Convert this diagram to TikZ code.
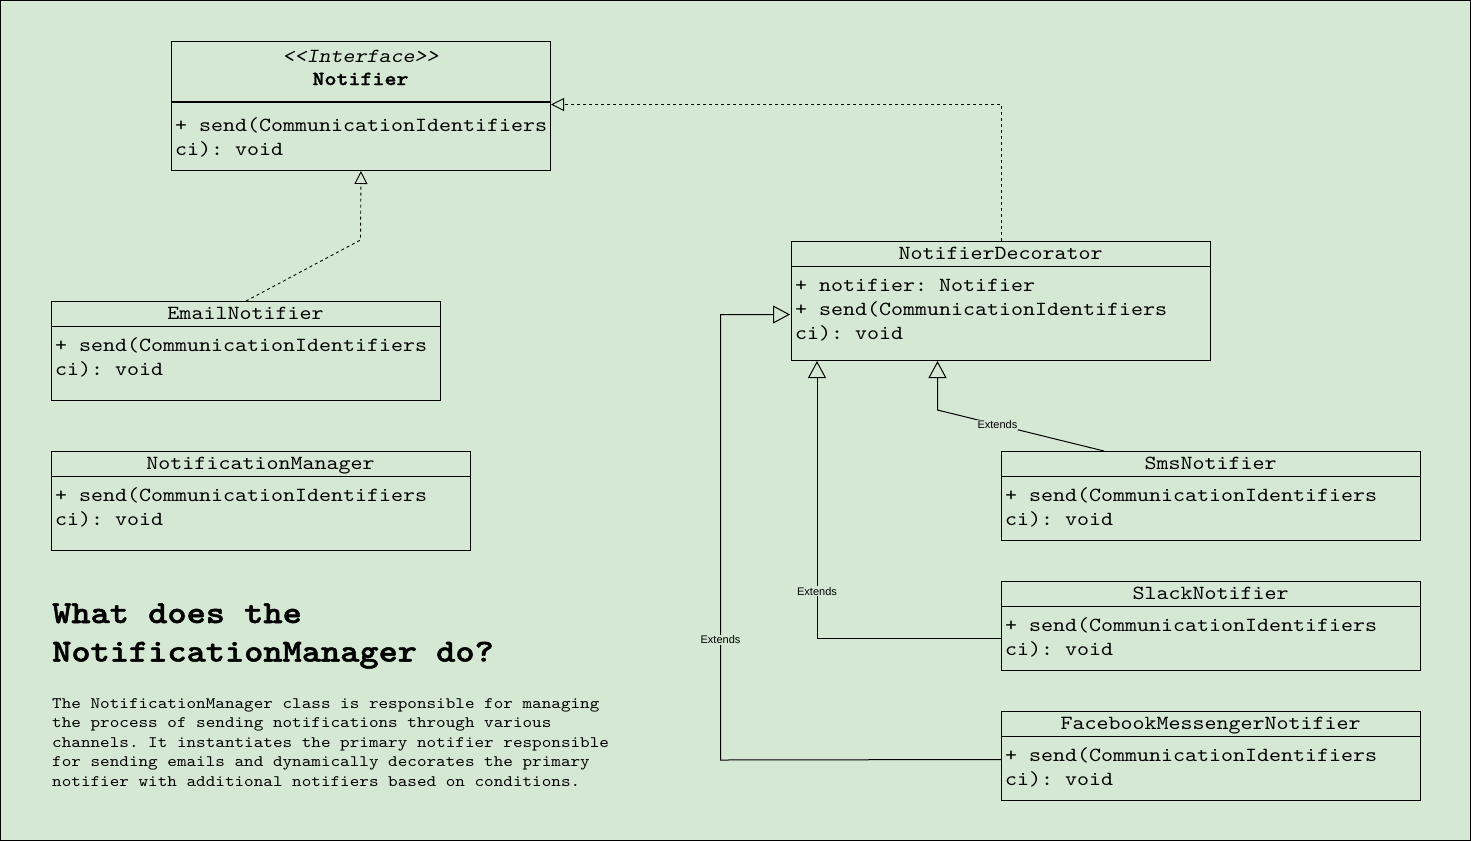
\documentclass[tikz,border=0pt]{standalone}
\usepackage{fontspec}
\usetikzlibrary{arrows.meta}
\newfontfamily\monofam[FakeStretch=1.1429, ItalicFont=lmmonoslant10-regular.otf, BoldFont=lmmonolt10-bold.otf, BoldFeatures={FakeBold=1.5}]{lmmono10-regular.otf}
\newfontfamily\sansfam{Liberation Sans}
\definecolor{bg}{HTML}{D5E8D4}
\begin{document}
\frenchspacing
\begin{tikzpicture}[x=1pt,y=-1pt,
  cls/.style={draw=black, line width=1pt, inner sep=0pt, anchor=north west},
  attr/.style={font=\monofam\frenchspacing\fontsize{20}{24}\selectfont, anchor=base west, inner sep=0pt},
  ttl/.style={font=\monofam\frenchspacing\fontsize{20}{24}\selectfont, anchor=base, inner sep=0pt},
  lbl/.style={font=\sansfam\fontsize{11}{13}\selectfont, fill=bg, inner sep=1pt},
  para/.style={font=\monofam\frenchspacing\fontsize{16}{19.5}\selectfont, anchor=base west, inner sep=0pt},
  head/.style={font=\monofam\frenchspacing\bfseries\fontsize{32}{38}\selectfont, anchor=base west, inner sep=0pt},
  real/.style={line width=0.9pt, dash pattern=on 3pt off 3pt, -{Triangle[open,length=13pt,width=13pt]}},
  ext/.style={line width=1pt, -{Triangle[open,length=17pt,width=18pt]}},
]
\useasboundingbox (0,0) rectangle (1471,841);
\fill[bg] (0,0) rectangle (1471,841);
\draw[line width=1pt] (0.5,0.5) rectangle (1470.5,840.5);

% Notifier interface
\node[cls, minimum width=379pt, minimum height=129pt] (notifier) at (171,41) {};
\draw[line width=2pt] (notifier.west |- 0,102) -- (notifier.east |- 0,102);
\node[ttl] (nst) at (360.5,62) {\itshape <{}<Interface>{}>};
\node[ttl] (nnm) at (360.5,85) {\bfseries Notifier};
\node[attr] (na1) at (175,131.5) {+ send(CommunicationIdentifiers};
\node[attr] (na2) at (175,155.5) {ci): void};

% EmailNotifier
\node[cls, minimum width=389pt, minimum height=99pt] (email) at (51,301) {};
\draw (email.west |- 0,326) -- (email.east |- 0,326);
\node[ttl] (ent) at (245.5,319) {EmailNotifier};
\node[attr] (ea1) at (55,351) {+ send(CommunicationIdentifiers};
\node[attr] (ea2) at (55,375) {ci): void};

% NotificationManager
\node[cls, minimum width=419pt, minimum height=99pt] (manager) at (51,451) {};
\draw (manager.west |- 0,476) -- (manager.east |- 0,476);
\node[ttl] (mnt) at (260.5,469) {NotificationManager};
\node[attr] (ma1) at (55,501) {+ send(CommunicationIdentifiers};
\node[attr] (ma2) at (55,525) {ci): void};

% NotifierDecorator
\node[cls, minimum width=419pt, minimum height=119pt] (dec) at (791,241) {};
\draw (dec.west |- 0,266) -- (dec.east |- 0,266);
\node[ttl] (dnt) at (1000.5,259) {NotifierDecorator};
\node[attr] (da1) at (795,291) {+ notifier: Notifier};
\node[attr] (da2) at (795,315) {+ send(CommunicationIdentifiers};
\node[attr] (da3) at (795,339) {ci): void};

% SmsNotifier
\node[cls, minimum width=419pt, minimum height=89pt] (sms) at (1001,451) {};
\draw (sms.west |- 0,476) -- (sms.east |- 0,476);
\node[ttl] (snt) at (1210.5,469) {SmsNotifier};
\node[attr] (sa1) at (1005,501) {+ send(CommunicationIdentifiers};
\node[attr] (sa2) at (1005,525) {ci): void};

% SlackNotifier
\node[cls, minimum width=419pt, minimum height=89pt] (slack) at (1001,581) {};
\draw (slack.west |- 0,606) -- (slack.east |- 0,606);
\node[ttl] (lnt) at (1210.5,599) {SlackNotifier};
\node[attr] (la1) at (1005,631) {+ send(CommunicationIdentifiers};
\node[attr] (la2) at (1005,655) {ci): void};

% FacebookMessengerNotifier
\node[cls, minimum width=419pt, minimum height=89pt] (fb) at (1001,711) {};
\draw (fb.west |- 0,736) -- (fb.east |- 0,736);
\node[ttl] (fnt) at (1210.5,729) {FacebookMessengerNotifier};
\node[attr] (fa1) at (1005,761) {+ send(CommunicationIdentifiers};
\node[attr] (fa2) at (1005,785) {ci): void};

% Text
\node[head] (h1) at (52,623) {What does the};
\node[head] (h2) at (52,661.5) {NotificationManager do?};
\node[para] (p1) at (52,708) {The NotificationManager class is responsible for managing};
\node[para] (p2) at (52,727.5) {the process of sending notifications through various};
\node[para] (p3) at (52,747) {channels. It instantiates the primary notifier responsible};
\node[para] (p4) at (52,766.5) {for sending emails and dynamically decorates the primary};
\node[para] (p5) at (52,786) {notifier with additional notifiers based on conditions.};

% Connectors
\coordinate (emailout) at (246,301);
\coordinate (ebend) at (360.5,240);
\draw[real] (emailout) -- (ebend) -- (notifier.south);

\coordinate (ntip) at (551,104.5);
\draw[real] (dec.north) |- (ntip);

\coordinate (smsout) at (1104,451);
\coordinate (dtip1) at (937.5,361);
\coordinate (dtip2) at (817,361);
\coordinate (dtip3) at (790,314.5);
\draw[ext] (smsout) -- node[lbl, pos=0.64] {Extends} (dtip1 |- 0,410) -- (dtip1);
\draw[ext] (slack.west |- 0,638.5) -- (dtip2 |- 0,638.5) -- node[lbl, pos=0.17] {Extends} (dtip2);
\draw[ext] (fb.west |- 0,759.5) -- (720.5,760) -- node[lbl, pos=0.27] {Extends} (720.5,314.5) -- (dtip3);
\end{tikzpicture}
\end{document}
